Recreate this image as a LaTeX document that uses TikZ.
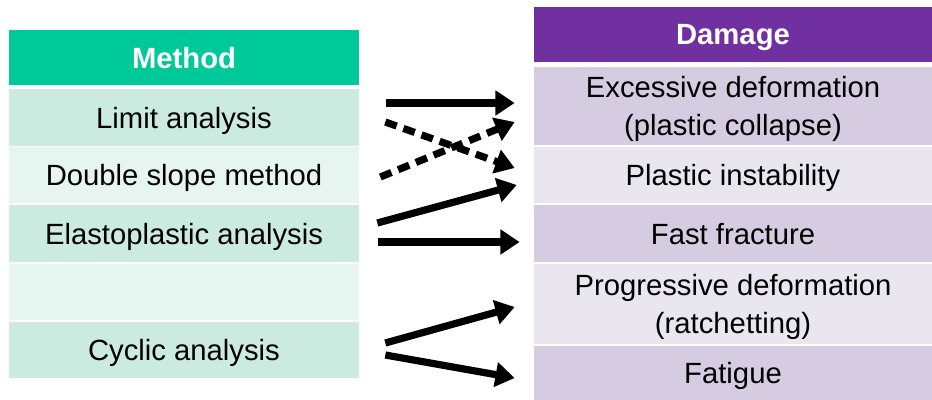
\documentclass[tikz,border=0pt]{standalone}
\usepackage{fontspec}
\setmainfont{Liberation Sans}
\setsansfont{Liberation Sans}
\definecolor{methodhead}{HTML}{00C999}
\definecolor{methoddark}{HTML}{CCEBE0}
\definecolor{methodlight}{HTML}{E6F5EF}
\definecolor{damagehead}{HTML}{7030A0}
\definecolor{damagedark}{HTML}{D5CCE1}
\definecolor{damagelight}{HTML}{E9E6EF}
\usetikzlibrary{arrows.meta, calc}
\tikzset{
  cell/.style={
    fill=#1, inner sep=0pt, minimum height=1.4cm, text depth=0pt,
    font=\fontsize{20.8}{26.5}\selectfont, text=black, align=center
  },
  cell/.default=methoddark,
  lcell/.style={cell=#1, minimum width=8.75cm},
  rcell/.style={cell=#1, minimum width=9.95cm},
  head/.style={font=\fontsize{20.8}{26.5}\selectfont\bfseries, text=white,
    minimum height=1.375cm},
  arr/.style={-{Triangle[length=0.48cm,width=0.6cm]}, line width=0.18cm, black},
  darr/.style={arr, dash pattern=on 0.3cm off 0.18cm},
}

\begin{document}
\begin{tikzpicture}[x=0.025cm, y=-0.025cm]
  \useasboundingbox (0,0) rectangle (932,400);

  % Method column
  \node[lcell=methodhead, head] (meth) at (184,57.5) {Method};
  \node[lcell=methoddark]  (lim) at (184,117.5) {Limit analysis};
  \node[lcell=methodlight] (dbl) at (184,175) {Double slope method};
  \node[lcell=methoddark]  (ela) at (184,233.5) {Elastoplastic analysis};
  \node[lcell=methodlight] (emp) at (184,292) {};
  \node[lcell=methoddark]  (cyc) at (184,350) {Cyclic analysis};

  % Damage column
  \node[rcell=damagehead, head] (dmg) at (733,34.5) {Damage};
  \node[rcell=damagedark, minimum height=1.95cm] (exc) at (733,106)
    {Excessive deformation\\(plastic collapse)};
  \node[rcell=damagelight] (pin) at (733,175) {Plastic instability};
  \node[rcell=damagedark]  (ff)  at (733,233.5) {Fast fracture};
  \node[rcell=damagelight, minimum height=2cm] (prg) at (733,304)
    {Progressive deformation\\(ratchetting)};
  \node[rcell=damagedark, minimum height=1.35cm] (fat) at (733,373) {Fatigue};

  % Arrows
  \draw[arr]  ([shift={(27,-14.5)}]lim.east) -- ([shift={(-19,-3)}]exc.west);
  \draw[darr] ([shift={(21,2)}]dbl.east) -- ([shift={(-19,16)}]exc.west);
  \draw[darr] ([shift={(26,4.5)}]lim.east) -- ([shift={(-19,-7)}]pin.west);
  \draw[arr]  ([shift={(18,-10.5)}]ela.east) -- ([shift={(-17,10)}]pin.west);
  \draw[arr]  ([shift={(19,8.5)}]ela.east) -- ([shift={(-14,8.5)}]ff.west);
  \draw[arr]  ([shift={(26,-7)}]cyc.east) -- ([shift={(-19,3)}]prg.west);
  \draw[arr]  ([shift={(26,5)}]cyc.east) -- ([shift={(-19,5)}]fat.west);
\end{tikzpicture}
\end{document}
